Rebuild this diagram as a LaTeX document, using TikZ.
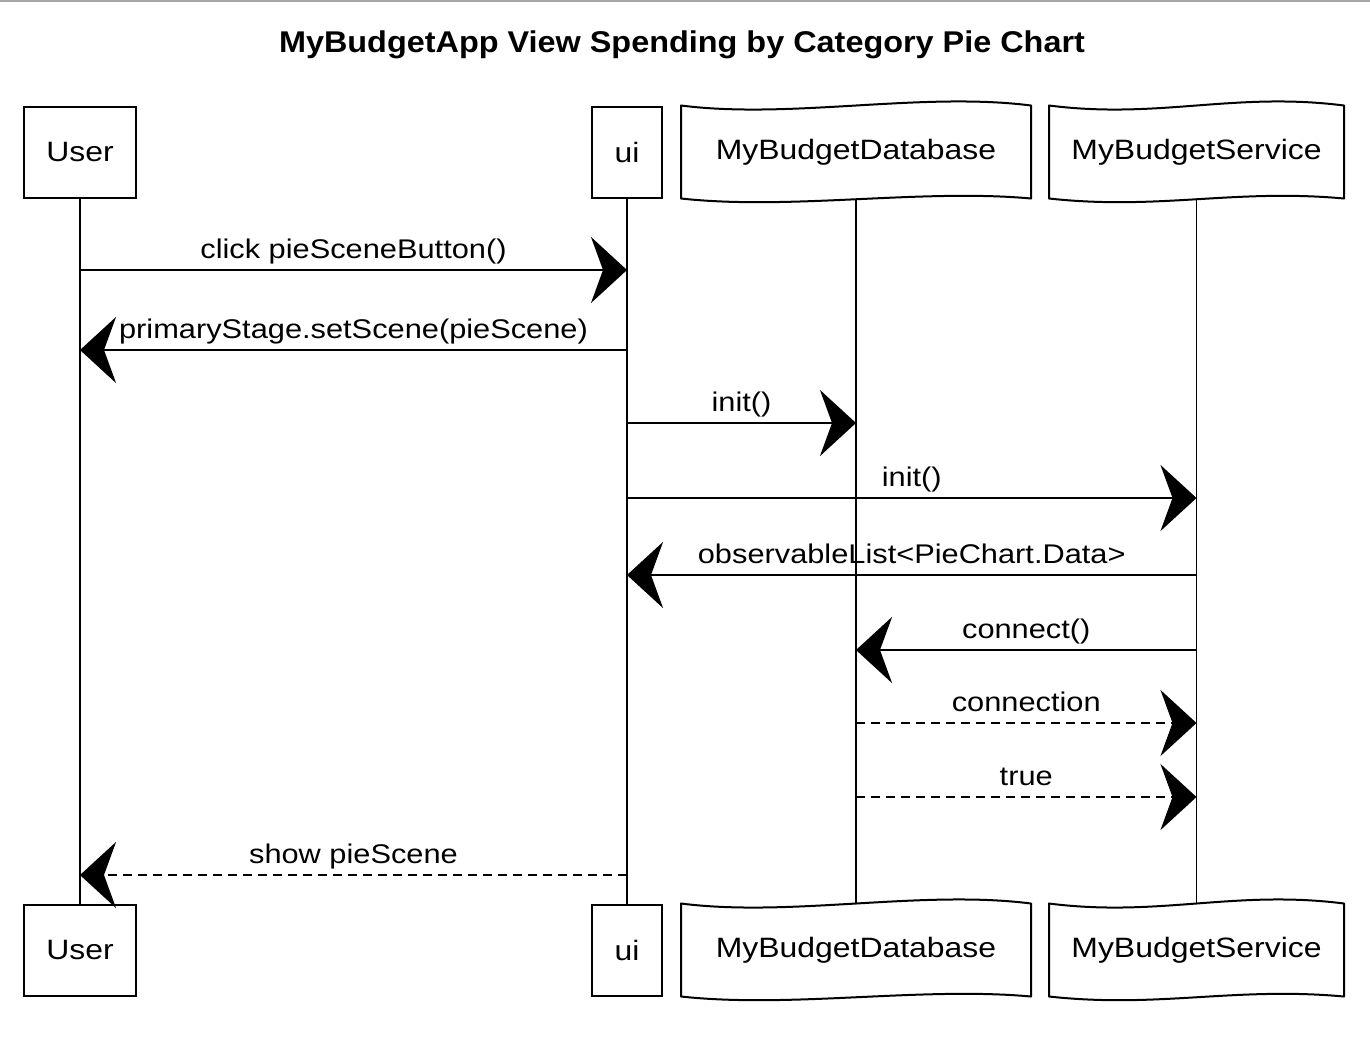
\documentclass[tikz,border=0pt]{standalone}
\usepackage{fontspec}
\setmainfont[FakeStretch=1.14]{Liberation Sans}
\newfontfamily\titlefont[FakeStretch=1.08]{Liberation Sans}
\usetikzlibrary{arrows.meta}
\begin{document}
\begin{tikzpicture}[x=1pt,y=-1pt,
  box/.style={draw, line width=2pt, inner sep=0pt, minimum height=91pt, font=\fontsize{28}{34}\selectfont},
  wbox/.style={box, draw=none},
  edge/.style={line width=2pt, line join=round},
  life/.style={line width=1.2pt},
  msg/.style={line width=2.5pt, -{Stealth[length=36pt,width=66pt,inset=12pt]}},
  ret/.style={msg, dash pattern=on 9pt off 6pt},
  lbl/.style={midway, anchor=base, yshift=12pt, inner sep=0pt, font=\fontsize{27}{32}\selectfont}]
\useasboundingbox (0,0) rectangle (1370,1042);
\fill[white] (0,0) rectangle (1370,1042);
\draw[gray!70, line width=2pt] (0,1) -- (1370,1);

\node[font=\titlefont\bfseries\fontsize{30}{36}\selectfont] (title) at (682,45) {MyBudgetApp View Spending by Category Pie Chart};

\node[box, minimum width=112pt] (usert) at (80,152) {User};
\node[box, minimum width=70pt] (uit) at (627,152) {ui};
\node[wbox, minimum width=348pt] (dbt) at (856,152) {MyBudgetDatabase};
\node[wbox, minimum width=293pt] (svt) at (1196.5,152) {MyBudgetService};

\node[box, minimum width=112pt] (userb) at (80,950) {User};
\node[box, minimum width=70pt] (uib) at (627,950) {ui};
\node[wbox, minimum width=348pt] (dbb) at (856,950) {MyBudgetDatabase};
\node[wbox, minimum width=293pt] (svb) at (1196.5,950) {MyBudgetService};

\foreach \n in {dbt,svt,dbb,svb}{
  \draw[edge] (\n.north west) .. controls +(110,14) and +(-110,-14) .. (\n.north east)
    -- (\n.south east) .. controls +(-110,-10) and +(110,12) .. (\n.south west) -- cycle;
}

\draw[life] (usert) -- (userb);
\draw[life] (uit) -- (uib);
\draw[life] (dbt) -- (dbb);
\draw[life] (svt) -- (svb);

\coordinate (m1) at (0,270);
\coordinate (m2) at (0,350);
\coordinate (m3) at (0,423);
\coordinate (m4) at (0,498);
\coordinate (m5) at (0,575);
\coordinate (m6) at (0,650);
\coordinate (m7) at (0,723);
\coordinate (m8) at (0,797);
\coordinate (m9) at (0,875);

\draw[msg] (usert.south |- m1) -- node[lbl] {click pieSceneButton()} (uit.south |- m1);
\draw[msg] (uit.south |- m2) -- node[lbl] {primaryStage.setScene(pieScene)} (usert.south |- m2);
\draw[msg] (uit.south |- m3) -- node[lbl] {init()} (dbt.south |- m3);
\draw[msg] (uit.south |- m4) -- node[lbl] {init()} (svt.south |- m4);
\draw[msg] (svt.south |- m5) -- node[lbl] {observableList<PieChart.Data>} (uit.south |- m5);
\draw[msg] (svt.south |- m6) -- node[lbl] {connect()} (dbt.south |- m6);
\draw[ret] (dbt.south |- m7) -- node[lbl] {connection} (svt.south |- m7);
\draw[ret] (dbt.south |- m8) -- node[lbl] {true} (svt.south |- m8);
\draw[ret] (uit.south |- m9) -- node[lbl] {show pieScene} (usert.south |- m9);
\end{tikzpicture}
\end{document}
